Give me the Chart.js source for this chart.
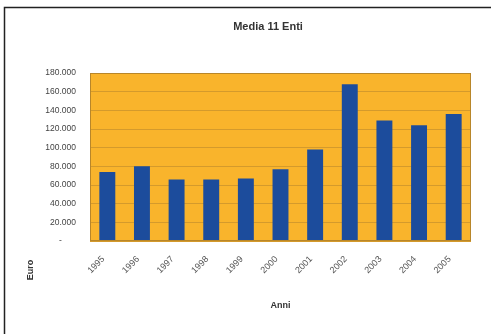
<!DOCTYPE html>
<html>
<head>
<meta charset="utf-8">
<script src="https://cdn.jsdelivr.net/npm/chart.js@4/dist/chart.umd.min.js"></script>
<style>
html,body{margin:0;padding:0;background:#fff;}
#wrap{width:491px;height:334px;position:relative;}
canvas{display:block;}
</style>
</head>
<body>
<div id="wrap"><canvas id="c" width="491" height="334"></canvas></div>
<script>
const categories = ['1995','1996','1997','1998','1999','2000','2001','2002','2003','2004','2005'];
const mediaValues = [74000, 80000, 66000, 66000, 67000, 77000, 98000, 168000, 129000, 124000, 136000];
const yTickValues = [0, 20000, 40000, 60000, 80000, 100000, 120000, 140000, 160000, 180000];
const chartTitle = 'Media 11 Enti';
const xTitle = 'Anni';
const yTitle = 'Euro';

const PLOT_BG = '#F9B42C';
const GRID = '#D49A2C';
const BAR = '#1C4C9C';
const FONT = 'Arial, "Liberation Sans", sans-serif';

function fmt(v){
  if (v === 0) return '-      ';
  return v.toString().replace(/\B(?=(\d{3})+(?!\d))/g, '.');
}

const decor = {
  id: 'decor',
  beforeDraw(chart){
    const ctx = chart.ctx, a = chart.chartArea;
    ctx.save();
    ctx.fillStyle = '#fff';
    ctx.fillRect(0,0,chart.width,chart.height);
    ctx.fillStyle = PLOT_BG;
    ctx.fillRect(a.left, a.top, a.right - a.left, a.bottom - a.top);
    ctx.restore();
  },
  afterDraw(chart){
    const ctx = chart.ctx, a = chart.chartArea;
    ctx.save();
    ctx.strokeStyle = '#B8862A';
    ctx.lineWidth = 1;
    ctx.strokeRect(a.left + 0.5, a.top + 0.5, a.right - a.left - 1, a.bottom - a.top - 1);
    // outer frame (top & left visible)
    ctx.strokeStyle = '#222';
    ctx.lineWidth = 1.5;
    ctx.beginPath();
    ctx.moveTo(491, 7.5);
    ctx.lineTo(4.5, 7.5);
    ctx.lineTo(4.5, 334);
    ctx.stroke();
    // chart title
    ctx.fillStyle = '#333';
    ctx.font = 'bold 11px ' + FONT;
    ctx.textAlign = 'center';
    ctx.textBaseline = 'middle';
    ctx.fillText(chartTitle, 268, 27);
    // y axis title
    ctx.font = 'bold 9px ' + FONT;
    ctx.translate(31, 270);
    ctx.rotate(-Math.PI/2);
    ctx.fillText(yTitle, 0, 0);
    ctx.restore();
  }
};

new Chart(document.getElementById('c'), {
  type: 'bar',
  data: {
    labels: categories,
    datasets: [{
      label: chartTitle,
      data: mediaValues,
      backgroundColor: BAR,
      borderWidth: 0,
      barPercentage: 0.46,
      categoryPercentage: 1.0
    }]
  },
  options: {
    responsive: false,
    animation: false,
    devicePixelRatio: 1,
    layout: { padding: { left: 40, right: 20, top: 73, bottom: 23 } },
    plugins: {
      legend: { display: false },
      tooltip: { enabled: false },
      title: { display: false }
    },
    scales: {
      x: {
        grid: { display: false, drawTicks: false },
        border: { display: false },
        ticks: {
          color: '#555',
          font: { family: FONT, size: 9 },
          maxRotation: 45, minRotation: 45,
          padding: 13,
          labelOffset: -4,
          autoSkip: false
        },
        title: {
          display: true,
          text: xTitle,
          color: '#333',
          font: { family: FONT, size: 9, weight: 'bold' },
          padding: { top: 0, bottom: 0 }
        },
        afterFit(scale){ scale.height = 70; }
      },
      y: {
        min: 0, max: 180000,
        afterBuildTicks(scale){ scale.ticks = yTickValues.map(v => ({value: v})); },
        grid: { color: GRID, lineWidth: 1, drawTicks: false },
        border: { display: false },
        ticks: {
          color: '#444',
          font: { family: FONT, size: 8.5 },
          padding: 14,
          callback: (v) => fmt(v)
        },
        afterFit(scale){ scale.width = 50; }
      }
    }
  },
  plugins: [decor]
});
</script>
</body>
</html>
